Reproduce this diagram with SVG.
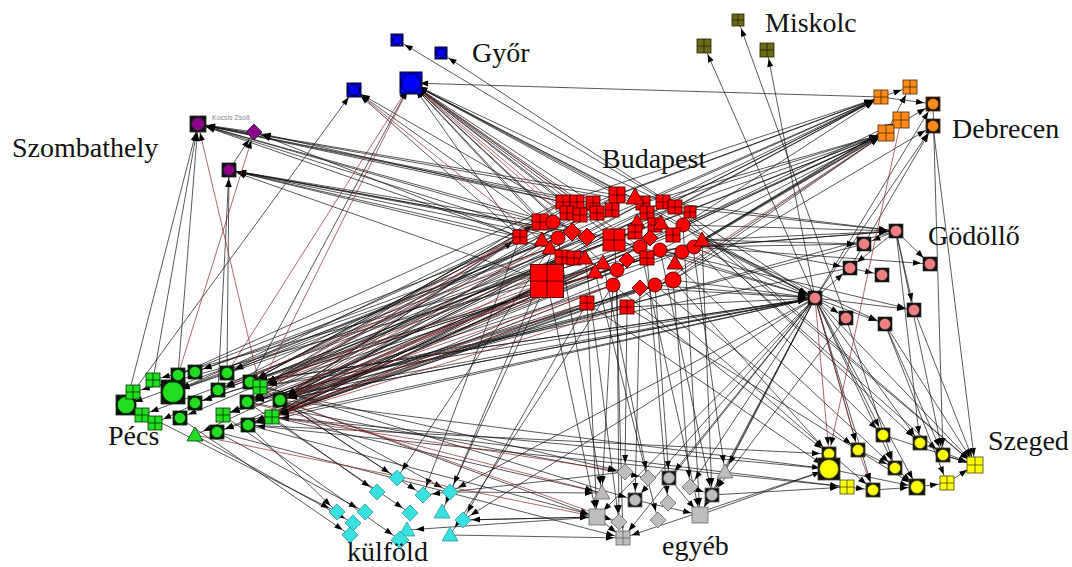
<svg xmlns="http://www.w3.org/2000/svg" width="1072" height="567" viewBox="0 0 1072 567">
<style>
.e{stroke:#111;stroke-width:.7;fill:none;marker-end:url(#ar)}
.r{stroke:#8b2a2a;stroke-width:.7;fill:none;marker-end:url(#ar)}
.lbl{font-family:"Liberation Serif","Times New Roman",serif;font-size:28px;fill:#111}
.sm{font-family:"Liberation Sans",Arial,sans-serif;font-size:7px;fill:#888}
.rd{fill:#ff0000;stroke:#4a0000;stroke-width:.9;color:#1a1a1a}
.gn{fill:#22dd22;stroke:#063306;stroke-width:.8;color:#111}
.yl{fill:#ffff00;stroke:#444422;stroke-width:.8;color:#111}
.cy{fill:#38e0e0;stroke:#2a9a9a;stroke-width:.8}
.or{fill:#ff8c1a;stroke:#4a2500;stroke-width:.8;color:#111}
.pu{fill:#8a008a;stroke:#222;stroke-width:.8;color:#111}
.ol{fill:#6b6b1a;stroke:#222200;stroke-width:.8}
.pk{fill:#f08080;stroke:#222;stroke-width:.6;color:#111}
.gy{fill:#bdbdbd;stroke:#666;stroke-width:.8;color:#111}
.bl{fill:#0000ff;stroke:#000022;stroke-width:1;color:#0000e0}
</style>
<defs>
<marker id="ar" markerUnits="userSpaceOnUse" markerWidth="8" markerHeight="6" viewBox="0 0 8 6" refX="17" refY="3" orient="auto" overflow="visible"><path d="M0 0L8 3L0 6z" fill="#000"/></marker>
<g id="sc12"><rect x="-6" y="-6" width="12" height="12" fill="currentColor"/><circle r="4.7"/></g>
<g id="sc14"><rect x="-7" y="-7" width="14" height="14" fill="currentColor"/><circle r="5.6"/></g>
<g id="sc16"><rect x="-8" y="-8" width="16" height="16" fill="currentColor"/><circle r="6.5"/></g>
<g id="sc20"><rect x="-10" y="-10" width="20" height="20" fill="currentColor"/><circle r="8.6"/></g>
<g id="sc22"><rect x="-11" y="-11" width="22" height="22" fill="currentColor"/><circle r="9.5"/></g>
<g id="sc24"><rect x="-12" y="-12" width="24" height="24" fill="currentColor"/><circle r="10.5"/></g>
<g id="gr12"><rect x="-6" y="-6" width="12" height="12"/><path d="M0-6V6M-6 0H6"/></g>
<g id="gr14"><rect x="-7" y="-7" width="14" height="14"/><path d="M0-7V7M-7 0H7"/></g>
<g id="gr16"><rect x="-8" y="-8" width="16" height="16"/><path d="M0-8V8M-8 0H8"/></g>
<g id="gr22"><rect x="-11" y="-11" width="22" height="22"/><path d="M0-11V11M-11 0H11"/></g>
<g id="gr33"><rect x="-16.5" y="-16.5" width="33" height="33"/><path d="M0-16.5V16.5M-16.5 0H16.5"/></g>
<path id="dm14" d="M0-8L8 0L0 8L-8 0z"/>
<path id="dm16" d="M0-9L9 0L0 9L-9 0z"/>
<path id="tr14" d="M0-8L8 6H-8z"/>
<path id="tr16" d="M0-9L9 7H-9z"/>
<circle id="ci14" r="7"/>
<circle id="ci16" r="8"/>
<rect id="sq16" x="-8" y="-8" width="16" height="16"/>
</defs>
<rect width="1072" height="567" fill="#fff"/>
<g id="connectors">
<path class="e" d="M540 222L411 83"/><path class="e" d="M563 202L411 83"/><path class="e" d="M593 203L411 83"/><path class="e" d="M617 195L411 83"/><path class="e" d="M643 203L411 83"/><path class="e" d="M558 238L411 83"/><path class="e" d="M615 240L411 83"/><path class="e" d="M663 202L411 83"/><path class="e" d="M520 237L411 83"/><path class="e" d="M577 202L411 83"/><path class="e" d="M597 213L411 83"/><path class="e" d="M683 225L411 83"/><path class="e" d="M815 298L411 83"/><path class="e" d="M881 97L411 83"/><path class="e" d="M250 382L411 83"/><path class="e" d="M572 232L411 83"/><path class="e" d="M603 263L411 83"/><path class="e" d="M647 258L411 83"/>
<path class="e" d="M520 237L354 90"/><path class="e" d="M540 222L354 90"/><path class="e" d="M567 213L354 90"/><path class="e" d="M133 392L354 90"/><path class="e" d="M675 207L397 40"/><path class="e" d="M815 298L441 53"/>
<path class="e" d="M815 298L704 46"/><path class="e" d="M815 298L767 50"/><path class="e" d="M846 318L738 20"/>
<path class="e" d="M520 237L198 124"/><path class="e" d="M540 222L198 124"/><path class="e" d="M563 202L198 124"/><path class="e" d="M577 202L198 124"/><path class="e" d="M593 203L198 124"/><path class="e" d="M558 238L198 124"/><path class="e" d="M617 195L198 124"/><path class="e" d="M643 203L198 124"/><path class="e" d="M615 240L198 124"/><path class="e" d="M254 132L198 124"/><path class="e" d="M126 405L198 124"/><path class="e" d="M153 380L198 124"/><path class="e" d="M178 375L198 124"/>
<path class="e" d="M520 237L229 170"/><path class="e" d="M540 222L229 170"/><path class="e" d="M558 238L229 170"/><path class="e" d="M547 282L229 170"/><path class="e" d="M572 232L229 170"/><path class="e" d="M587 237L229 170"/><path class="e" d="M550 248L229 170"/><path class="e" d="M615 240L229 170"/><path class="e" d="M227 373L229 170"/><path class="e" d="M218 390L229 170"/><path class="e" d="M229 170L254 132"/><path class="e" d="M520 237L254 132"/><path class="e" d="M563 202L254 132"/>
<path class="e" d="M563 202L881 97"/><path class="e" d="M593 203L881 97"/><path class="e" d="M617 195L881 97"/><path class="e" d="M643 203L881 97"/><path class="e" d="M663 202L881 97"/><path class="e" d="M675 207L881 97"/><path class="e" d="M683 225L881 97"/><path class="e" d="M615 240L881 97"/><path class="e" d="M558 238L881 97"/><path class="e" d="M280 400L881 97"/>
<path class="e" d="M643 203L886 133"/><path class="e" d="M663 202L886 133"/><path class="e" d="M675 207L886 133"/><path class="e" d="M683 225L886 133"/><path class="e" d="M693 247L886 133"/><path class="e" d="M702 240L886 133"/><path class="e" d="M673 280L886 133"/><path class="e" d="M640 247L886 133"/><path class="e" d="M660 250L886 133"/><path class="e" d="M627 307L886 133"/><path class="e" d="M615 240L886 133"/><path class="e" d="M272 417L886 133"/>
<path class="e" d="M683 225L901 120"/><path class="e" d="M702 240L901 120"/><path class="e" d="M693 247L901 120"/><path class="e" d="M886 133L910 87"/><path class="e" d="M881 97L910 87"/><path class="e" d="M815 298L933 104"/><path class="e" d="M702 240L933 104"/><path class="e" d="M673 280L933 126"/><path class="e" d="M815 298L933 126"/><path class="e" d="M850 268L933 126"/><path class="e" d="M933 126L975 465"/><path class="e" d="M933 104L943 455"/><path class="e" d="M881 97L933 104"/>
<path class="e" d="M683 225L896 231"/><path class="e" d="M693 247L896 231"/><path class="e" d="M702 240L896 231"/><path class="e" d="M675 207L896 231"/><path class="e" d="M663 202L896 231"/><path class="e" d="M660 250L896 231"/><path class="e" d="M896 231L864 244"/><path class="e" d="M702 240L864 244"/><path class="e" d="M693 247L864 244"/><path class="e" d="M896 231L850 268"/><path class="e" d="M815 298L850 268"/><path class="e" d="M702 240L850 268"/><path class="e" d="M850 268L882 275"/><path class="e" d="M896 231L930 264"/><path class="e" d="M693 247L930 264"/><path class="e" d="M815 298L846 318"/><path class="e" d="M815 298L885 324"/><path class="e" d="M702 240L885 324"/><path class="e" d="M815 298L914 310"/><path class="e" d="M896 231L914 310"/><path class="e" d="M660 250L914 310"/>
<path class="e" d="M702 240L815 298"/><path class="e" d="M693 247L815 298"/><path class="e" d="M683 225L815 298"/><path class="e" d="M673 280L815 298"/><path class="e" d="M655 285L815 298"/><path class="e" d="M660 250L815 298"/><path class="e" d="M640 288L815 298"/><path class="e" d="M627 307L815 298"/><path class="e" d="M615 240L815 298"/><path class="e" d="M280 400L815 298"/><path class="e" d="M260 387L815 298"/><path class="e" d="M250 382L815 298"/>
<path class="e" d="M673 280L829 454"/><path class="e" d="M655 285L858 450"/><path class="e" d="M693 247L883 435"/><path class="e" d="M702 240L920 443"/><path class="e" d="M683 225L943 455"/><path class="e" d="M660 250L895 468"/><path class="e" d="M640 288L873 490"/><path class="e" d="M627 307L917 487"/><path class="e" d="M675 207L975 465"/><path class="e" d="M663 202L975 465"/>
<path class="e" d="M815 298L858 450"/><path class="e" d="M815 298L883 435"/><path class="e" d="M815 298L895 468"/><path class="e" d="M815 298L920 443"/><path class="e" d="M815 298L917 487"/><path class="e" d="M815 298L975 465"/><path class="e" d="M815 298L873 490"/><path class="e" d="M896 231L920 443"/><path class="e" d="M896 231L943 455"/><path class="e" d="M885 324L943 455"/><path class="e" d="M885 324L947 483"/><path class="e" d="M885 324L975 465"/><path class="e" d="M914 310L975 465"/><path class="e" d="M846 318L895 468"/>
<path class="e" d="M829 469L917 487"/><path class="e" d="M847 487L873 490"/><path class="e" d="M873 490L917 487"/><path class="e" d="M895 468L917 487"/><path class="e" d="M920 443L975 465"/><path class="e" d="M943 455L975 465"/><path class="e" d="M917 487L947 483"/><path class="e" d="M947 483L975 465"/><path class="e" d="M858 450L895 468"/><path class="e" d="M883 435L975 465"/>
<path class="e" d="M280 400L829 469"/><path class="e" d="M272 417L847 487"/><path class="e" d="M248 425L829 454"/><path class="e" d="M700 515L829 469"/><path class="e" d="M712 495L847 487"/><path class="e" d="M613 285L829 454"/><path class="e" d="M587 303L829 469"/>
<path class="e" d="M587 303L597 517"/><path class="e" d="M613 285L602 493"/><path class="e" d="M627 307L625 472"/><path class="e" d="M640 288L635 500"/><path class="e" d="M655 285L669 478"/><path class="e" d="M673 280L690 487"/><path class="e" d="M660 250L712 495"/><path class="e" d="M693 247L725 472"/><path class="e" d="M617 270L619 522"/><path class="e" d="M603 263L648 478"/><path class="e" d="M640 247L700 515"/><path class="e" d="M615 240L623 538"/><path class="e" d="M547 282L597 517"/><path class="e" d="M558 238L602 493"/><path class="e" d="M647 258L668 503"/><path class="e" d="M683 225L700 515"/><path class="e" d="M702 240L712 495"/><path class="e" d="M595 272L658 520"/><path class="e" d="M585 258L619 522"/>
<path class="e" d="M280 400L597 517"/><path class="e" d="M272 417L602 493"/><path class="e" d="M248 425L619 522"/><path class="e" d="M250 382L635 500"/><path class="e" d="M260 387L625 472"/><path class="e" d="M217 432L623 538"/><path class="e" d="M247 402L648 478"/>
<path class="e" d="M815 298L725 472"/><path class="e" d="M815 298L712 495"/><path class="e" d="M815 298L700 515"/><path class="e" d="M815 298L690 487"/><path class="e" d="M815 298L669 478"/><path class="e" d="M815 298L597 517"/><path class="e" d="M815 298L635 500"/><path class="e" d="M815 298L623 538"/><path class="e" d="M846 318L712 495"/><path class="e" d="M463 520L597 517"/><path class="e" d="M450 535L623 538"/><path class="e" d="M450 492L602 493"/><path class="e" d="M829 469L623 538"/><path class="e" d="M635 500L700 515"/><path class="e" d="M669 478L700 515"/><path class="e" d="M690 487L712 495"/><path class="e" d="M597 517L623 538"/>
<path class="e" d="M280 400L397 478"/><path class="e" d="M272 417L377 492"/><path class="e" d="M248 425L337 512"/><path class="e" d="M217 432L365 512"/><path class="e" d="M180 418L350 535"/><path class="e" d="M260 387L423 495"/><path class="e" d="M247 402L410 513"/><path class="e" d="M223 415L400 540"/><path class="e" d="M280 400L450 492"/><path class="e" d="M195 435L353 523"/><path class="e" d="M126 405L337 512"/>
<path class="e" d="M547 282L450 492"/><path class="e" d="M520 237L423 495"/><path class="e" d="M558 238L442 512"/><path class="e" d="M587 303L463 520"/><path class="e" d="M550 248L397 478"/><path class="e" d="M613 285L450 535"/><path class="e" d="M815 298L463 520"/><path class="e" d="M815 298L450 492"/><path class="e" d="M597 517L463 520"/><path class="e" d="M625 472L423 495"/><path class="e" d="M597 517L407 530"/>
<path class="e" d="M520 237L173 392"/><path class="e" d="M540 222L250 382"/><path class="e" d="M547 282L280 400"/><path class="e" d="M563 202L178 375"/><path class="e" d="M577 202L227 373"/><path class="e" d="M593 203L218 390"/><path class="e" d="M617 195L260 387"/><path class="e" d="M643 203L247 402"/><path class="e" d="M663 202L280 400"/><path class="e" d="M675 207L173 392"/><path class="e" d="M683 225L250 382"/><path class="e" d="M693 247L272 417"/><path class="e" d="M702 240L195 403"/><path class="e" d="M673 280L248 425"/><path class="e" d="M655 285L223 415"/><path class="e" d="M640 288L217 432"/><path class="e" d="M613 285L272 417"/><path class="e" d="M587 303L280 400"/><path class="e" d="M627 307L247 402"/><path class="e" d="M558 238L195 372"/><path class="e" d="M615 240L173 392"/><path class="e" d="M640 247L153 380"/><path class="e" d="M660 250L133 392"/><path class="e" d="M550 248L126 405"/><path class="e" d="M597 213L260 387"/><path class="e" d="M647 258L195 403"/><path class="e" d="M572 232L227 373"/><path class="e" d="M587 237L218 390"/><path class="e" d="M603 263L272 417"/><path class="e" d="M617 270L280 400"/><path class="e" d="M635 232L142 415"/><path class="e" d="M542 240L155 423"/><path class="e" d="M562 257L180 418"/><path class="e" d="M573 258L195 435"/><path class="e" d="M650 238L248 425"/><path class="e" d="M673 235L223 415"/>
<path class="e" d="M520 237L250 382"/><path class="e" d="M540 222L280 400"/><path class="e" d="M563 202L260 387"/><path class="e" d="M577 202L247 402"/><path class="e" d="M593 203L280 400"/><path class="e" d="M617 195L272 417"/><path class="e" d="M643 203L280 400"/><path class="e" d="M663 202L260 387"/><path class="e" d="M675 207L247 402"/><path class="e" d="M683 225L280 400"/><path class="e" d="M693 247L260 387"/><path class="e" d="M702 240L250 382"/><path class="e" d="M673 280L280 400"/><path class="e" d="M655 285L272 417"/><path class="e" d="M640 288L248 425"/><path class="e" d="M627 307L280 400"/><path class="e" d="M613 285L247 402"/><path class="e" d="M587 303L272 417"/><path class="e" d="M615 240L250 382"/><path class="e" d="M640 247L272 417"/><path class="e" d="M660 250L280 400"/><path class="e" d="M550 248L195 372"/><path class="e" d="M558 238L173 392"/><path class="e" d="M597 213L178 375"/><path class="e" d="M647 258L218 390"/><path class="e" d="M603 263L223 415"/><path class="e" d="M617 270L217 432"/><path class="e" d="M547 282L248 425"/><path class="e" d="M547 282L272 417"/><path class="e" d="M562 257L260 387"/>
<path class="e" d="M815 298L280 400"/><path class="e" d="M815 298L272 417"/><path class="e" d="M815 298L247 402"/><path class="e" d="M815 298L250 382"/><path class="e" d="M815 298L248 425"/><path class="e" d="M850 268L260 387"/><path class="e" d="M896 231L280 400"/><path class="e" d="M864 244L247 402"/><path class="e" d="M886 133L250 382"/><path class="e" d="M881 97L280 400"/><path class="e" d="M829 469L272 417"/><path class="e" d="M847 487L248 425"/><path class="e" d="M280 400L520 237"/><path class="e" d="M272 417L547 282"/><path class="e" d="M250 382L540 222"/>
<path class="r" d="M227 373L411 83"/><path class="r" d="M260 387L411 83"/><path class="r" d="M640 247L411 83"/><path class="r" d="M587 237L411 83"/><path class="r" d="M567 213L411 83"/><path class="r" d="M550 248L354 90"/><path class="r" d="M178 375L254 132"/><path class="r" d="M260 387L198 124"/><path class="r" d="M655 285L886 133"/><path class="r" d="M815 298L858 450"/><path class="r" d="M815 298L829 454"/><path class="r" d="M858 450L873 490"/><path class="r" d="M195 435L597 517"/><path class="r" d="M280 400L619 522"/><path class="r" d="M540 222L260 387"/><path class="r" d="M563 202L280 400"/><path class="r" d="M587 303L248 425"/><path class="r" d="M613 285L272 417"/><path class="r" d="M520 237L247 402"/><path class="r" d="M550 248L218 390"/><path class="r" d="M272 417L625 472"/><path class="r" d="M247 402L602 493"/><path class="r" d="M901 120L829 454"/>
<path class="r" d="M547 282L260 387"/><path class="r" d="M558 238L280 400"/><path class="r" d="M573 258L272 417"/><path class="r" d="M595 272L248 425"/><path class="r" d="M603 263L280 400"/><path class="r" d="M615 240L260 387"/><path class="r" d="M640 247L280 400"/><path class="r" d="M613 285L280 400"/><path class="r" d="M627 307L272 417"/><path class="r" d="M660 250L247 402"/>
</g>
<g id="gyor">
<g id="gy1"><use href="#sc12" x="397" y="40" class="bl"/></g>
<g id="gy2"><use href="#sc12" x="441" y="53" class="bl"/></g>
<g id="gy3"><use href="#sc22" x="411" y="83" class="bl"/></g>
<g id="gy4"><use href="#sc14" x="354" y="90" class="bl"/></g>
</g>
<g id="miskolc">
<g id="mi1"><use href="#gr12" x="738" y="20" class="ol"/></g>
<g id="mi2"><use href="#gr14" x="704" y="46" class="ol"/></g>
<g id="mi3"><use href="#gr14" x="767" y="50" class="ol"/></g>
</g>
<g id="debrecen">
<g id="de1"><use href="#gr14" x="881" y="97" class="or"/></g>
<g id="de2"><use href="#gr14" x="910" y="87" class="or"/></g>
<g id="de3"><use href="#gr16" x="901" y="120" class="or"/></g>
<g id="de4"><use href="#gr16" x="886" y="133" class="or"/></g>
<g id="de5"><use href="#sc14" x="933" y="104" class="or"/></g>
<g id="de6"><use href="#sc14" x="933" y="126" class="or"/></g>
</g>
<g id="szombathely">
<g id="so1"><use href="#sc16" x="198" y="124" class="pu"/></g>
<g id="so2"><use href="#dm14" x="254" y="132" class="pu"/></g>
<g id="so3"><use href="#sc14" x="229" y="170" class="pu"/></g>
</g>
<g id="godollo">
<g id="go1"><use href="#sc14" x="896" y="231" class="pk"/></g>
<g id="go2"><use href="#sc14" x="864" y="244" class="pk"/></g>
<g id="go3"><use href="#sc14" x="850" y="268" class="pk"/></g>
<g id="go4"><use href="#sc14" x="882" y="275" class="pk"/></g>
<g id="go5"><use href="#sc14" x="930" y="264" class="pk"/></g>
<g id="go6"><use href="#sc14" x="815" y="298" class="pk"/></g>
<g id="go7"><use href="#sc14" x="846" y="318" class="pk"/></g>
<g id="go8"><use href="#sc14" x="885" y="324" class="pk"/></g>
<g id="go9"><use href="#sc14" x="914" y="310" class="pk"/></g>
</g>
<g id="szeged">
<g id="sz1"><use href="#sc14" x="829" y="454" class="yl"/></g>
<g id="sz2"><use href="#sc22" x="829" y="469" class="yl"/></g>
<g id="sz3"><use href="#sc14" x="858" y="450" class="yl"/></g>
<g id="sz4"><use href="#sc14" x="883" y="435" class="yl"/></g>
<g id="sz5"><use href="#gr14" x="847" y="487" class="yl"/></g>
<g id="sz6"><use href="#sc14" x="873" y="490" class="yl"/></g>
<g id="sz7"><use href="#sc14" x="895" y="468" class="yl"/></g>
<g id="sz8"><use href="#sc14" x="920" y="443" class="yl"/></g>
<g id="sz9"><use href="#sc14" x="943" y="455" class="yl"/></g>
<g id="sz10"><use href="#sc16" x="917" y="487" class="yl"/></g>
<g id="sz11"><use href="#gr14" x="947" y="483" class="yl"/></g>
<g id="sz12"><use href="#gr16" x="975" y="465" class="yl"/></g>
</g>
<g id="budapest">
<g id="bp1"><use href="#gr14" x="563" y="202" class="rd"/></g>
<g id="bp2"><use href="#gr14" x="577" y="202" class="rd"/></g>
<g id="bp3"><use href="#gr14" x="593" y="203" class="rd"/></g>
<g id="bp4"><use href="#gr16" x="617" y="195" class="rd"/></g>
<g id="bp5"><use href="#gr14" x="643" y="203" class="rd"/></g>
<g id="bp6"><use href="#gr14" x="663" y="202" class="rd"/></g>
<g id="bp7"><use href="#gr14" x="675" y="207" class="rd"/></g>
<g id="bp8"><use href="#gr12" x="690" y="212" class="rd"/></g>
<g id="bp9"><use href="#gr14" x="567" y="213" class="rd"/></g>
<g id="bp10"><use href="#gr14" x="580" y="215" class="rd"/></g>
<g id="bp11"><use href="#gr14" x="597" y="213" class="rd"/></g>
<g id="bp12"><use href="#gr14" x="612" y="210" class="rd"/></g>
<g id="bp13"><use href="#gr14" x="647" y="213" class="rd"/></g>
<g id="bp14"><use href="#tr16" x="635" y="197" class="rd"/></g>
<g id="bp15"><use href="#gr16" x="540" y="222" class="rd"/></g>
<g id="bp16"><use href="#ci14" x="553" y="222" class="rd"/></g>
<g id="bp17"><use href="#gr14" x="655" y="225" class="rd"/></g>
<g id="bp18"><use href="#tr14" x="637" y="222" class="rd"/></g>
<g id="bp19"><use href="#tr14" x="661" y="223" class="rd"/></g>
<g id="bp20"><use href="#ci14" x="683" y="225" class="rd"/></g>
<g id="bp21"><use href="#gr14" x="635" y="232" class="rd"/></g>
<g id="bp22"><use href="#gr22" x="614" y="240" class="rd"/></g>
<g id="bp23"><use href="#gr14" x="520" y="237" class="rd"/></g>
<g id="bp24"><use href="#tr14" x="542" y="240" class="rd"/></g>
<g id="bp25"><use href="#ci14" x="558" y="238" class="rd"/></g>
<g id="bp26"><use href="#dm16" x="572" y="232" class="rd"/></g>
<g id="bp27"><use href="#dm16" x="587" y="237" class="rd"/></g>
<g id="bp28"><use href="#tr14" x="550" y="248" class="rd"/></g>
<g id="bp29"><use href="#gr14" x="562" y="257" class="rd"/></g>
<g id="bp30"><use href="#gr14" x="574" y="258" class="rd"/></g>
<g id="bp31"><use href="#tr14" x="585" y="258" class="rd"/></g>
<g id="bp32"><use href="#dm14" x="650" y="238" class="rd"/></g>
<g id="bp33"><use href="#gr14" x="673" y="235" class="rd"/></g>
<g id="bp34"><use href="#ci14" x="640" y="247" class="rd"/></g>
<g id="bp35"><use href="#ci14" x="660" y="250" class="rd"/></g>
<g id="bp36"><use href="#ci14" x="682" y="252" class="rd"/></g>
<g id="bp37"><use href="#ci14" x="694" y="247" class="rd"/></g>
<g id="bp38"><use href="#tr14" x="702" y="240" class="rd"/></g>
<g id="bp39"><use href="#gr14" x="647" y="258" class="rd"/></g>
<g id="bp40"><use href="#tr14" x="603" y="263" class="rd"/></g>
<g id="bp41"><use href="#dm14" x="627" y="260" class="rd"/></g>
<g id="bp42"><use href="#tr14" x="595" y="272" class="rd"/></g>
<g id="bp43"><use href="#ci14" x="617" y="270" class="rd"/></g>
<g id="bp44"><use href="#tr14" x="675" y="263" class="rd"/></g>
<g id="bp45"><use href="#ci16" x="673" y="280" class="rd"/></g>
<g id="bp46"><use href="#ci14" x="655" y="285" class="rd"/></g>
<g id="bp47"><use href="#dm14" x="640" y="288" class="rd"/></g>
<g id="bp48"><use href="#ci14" x="613" y="285" class="rd"/></g>
<g id="bp49"><use href="#gr14" x="587" y="303" class="rd"/></g>
<g id="bp50"><use href="#gr14" x="627" y="307" class="rd"/></g>
<g id="bp51"><use href="#gr33" x="547" y="281" class="rd"/></g>
</g>
<g id="pecs">
<g id="pe1"><use href="#sc20" x="126" y="405" class="gn"/></g>
<g id="pe2"><use href="#gr14" x="133" y="392" class="gn"/></g>
<g id="pe3"><use href="#gr14" x="153" y="380" class="gn"/></g>
<g id="pe4"><use href="#gr14" x="142" y="415" class="gn"/></g>
<g id="pe5"><use href="#gr14" x="155" y="423" class="gn"/></g>
<g id="pe6"><use href="#sc24" x="173" y="392" class="gn"/></g>
<g id="pe7"><use href="#sc14" x="178" y="375" class="gn"/></g>
<g id="pe8"><use href="#sc14" x="195" y="372" class="gn"/></g>
<g id="pe9"><use href="#sc14" x="227" y="373" class="gn"/></g>
<g id="pe10"><use href="#sc14" x="250" y="382" class="gn"/></g>
<g id="pe11"><use href="#gr14" x="260" y="387" class="gn"/></g>
<g id="pe12"><use href="#sc14" x="195" y="403" class="gn"/></g>
<g id="pe13"><use href="#sc14" x="218" y="390" class="gn"/></g>
<g id="pe14"><use href="#sc14" x="247" y="402" class="gn"/></g>
<g id="pe15"><use href="#sc14" x="280" y="400" class="gn"/></g>
<g id="pe16"><use href="#gr14" x="223" y="415" class="gn"/></g>
<g id="pe17"><use href="#gr14" x="272" y="417" class="gn"/></g>
<g id="pe18"><use href="#sc14" x="180" y="418" class="gn"/></g>
<g id="pe19"><use href="#sc14" x="248" y="425" class="gn"/></g>
<g id="pe20"><use href="#sc14" x="217" y="432" class="gn"/></g>
<g id="pe21"><use href="#tr14" x="195" y="435" class="gn"/></g>
</g>
<g id="kulfold">
<g id="ku1"><use href="#dm14" x="397" y="478" class="cy"/></g>
<g id="ku2"><use href="#dm14" x="377" y="492" class="cy"/></g>
<g id="ku3"><use href="#dm14" x="337" y="512" class="cy"/></g>
<g id="ku4"><use href="#dm14" x="365" y="512" class="cy"/></g>
<g id="ku5"><use href="#dm14" x="353" y="523" class="cy"/></g>
<g id="ku6"><use href="#dm14" x="350" y="535" class="cy"/></g>
<g id="ku7"><use href="#dm14" x="423" y="495" class="cy"/></g>
<g id="ku8"><use href="#dm14" x="450" y="492" class="cy"/></g>
<g id="ku9"><use href="#dm14" x="410" y="513" class="cy"/></g>
<g id="ku10"><use href="#tr14" x="442" y="512" class="cy"/></g>
<g id="ku11"><use href="#dm14" x="463" y="520" class="cy"/></g>
<g id="ku12"><use href="#tr14" x="407" y="530" class="cy"/></g>
<g id="ku13"><use href="#dm16" x="400" y="540" class="cy"/></g>
<g id="ku14"><use href="#tr14" x="450" y="535" class="cy"/></g>
</g>
<g id="egyeb">
<g id="eg1"><use href="#dm14" x="625" y="472" class="gy"/></g>
<g id="eg2"><use href="#dm14" x="648" y="478" class="gy"/></g>
<g id="eg3"><use href="#sc14" x="669" y="478" class="gy"/></g>
<g id="eg4"><use href="#dm14" x="690" y="487" class="gy"/></g>
<g id="eg5"><use href="#tr14" x="725" y="472" class="gy"/></g>
<g id="eg6"><use href="#tr14" x="602" y="493" class="gy"/></g>
<g id="eg7"><use href="#sc14" x="635" y="500" class="gy"/></g>
<g id="eg8"><use href="#dm14" x="668" y="503" class="gy"/></g>
<g id="eg9"><use href="#sc14" x="712" y="495" class="gy"/></g>
<g id="eg10"><use href="#sq16" x="597" y="517" class="gy"/></g>
<g id="eg11"><use href="#dm14" x="619" y="522" class="gy"/></g>
<g id="eg12"><use href="#dm14" x="658" y="520" class="gy"/></g>
<g id="eg13"><use href="#sq16" x="700" y="515" class="gy"/></g>
<g id="eg14"><use href="#gr14" x="623" y="538" class="gy"/></g>
</g>
<g id="labels">
<text class="lbl" x="472" y="62">Győr</text>
<text class="lbl" x="765" y="32">Miskolc</text>
<text class="lbl" x="952" y="138">Debrecen</text>
<text class="lbl" x="12" y="157">Szombathely</text>
<text class="sm" x="212" y="120">Kocsis Zsolt</text>
<text class="lbl" x="602" y="168">Budapest</text>
<text class="lbl" x="928" y="245">Gödöllő</text>
<text class="lbl" x="108" y="445">Pécs</text>
<text class="lbl" x="347" y="561">külföld</text>
<text class="lbl" x="662" y="555">egyéb</text>
<text class="lbl" x="988" y="450">Szeged</text>
</g>
</svg>
